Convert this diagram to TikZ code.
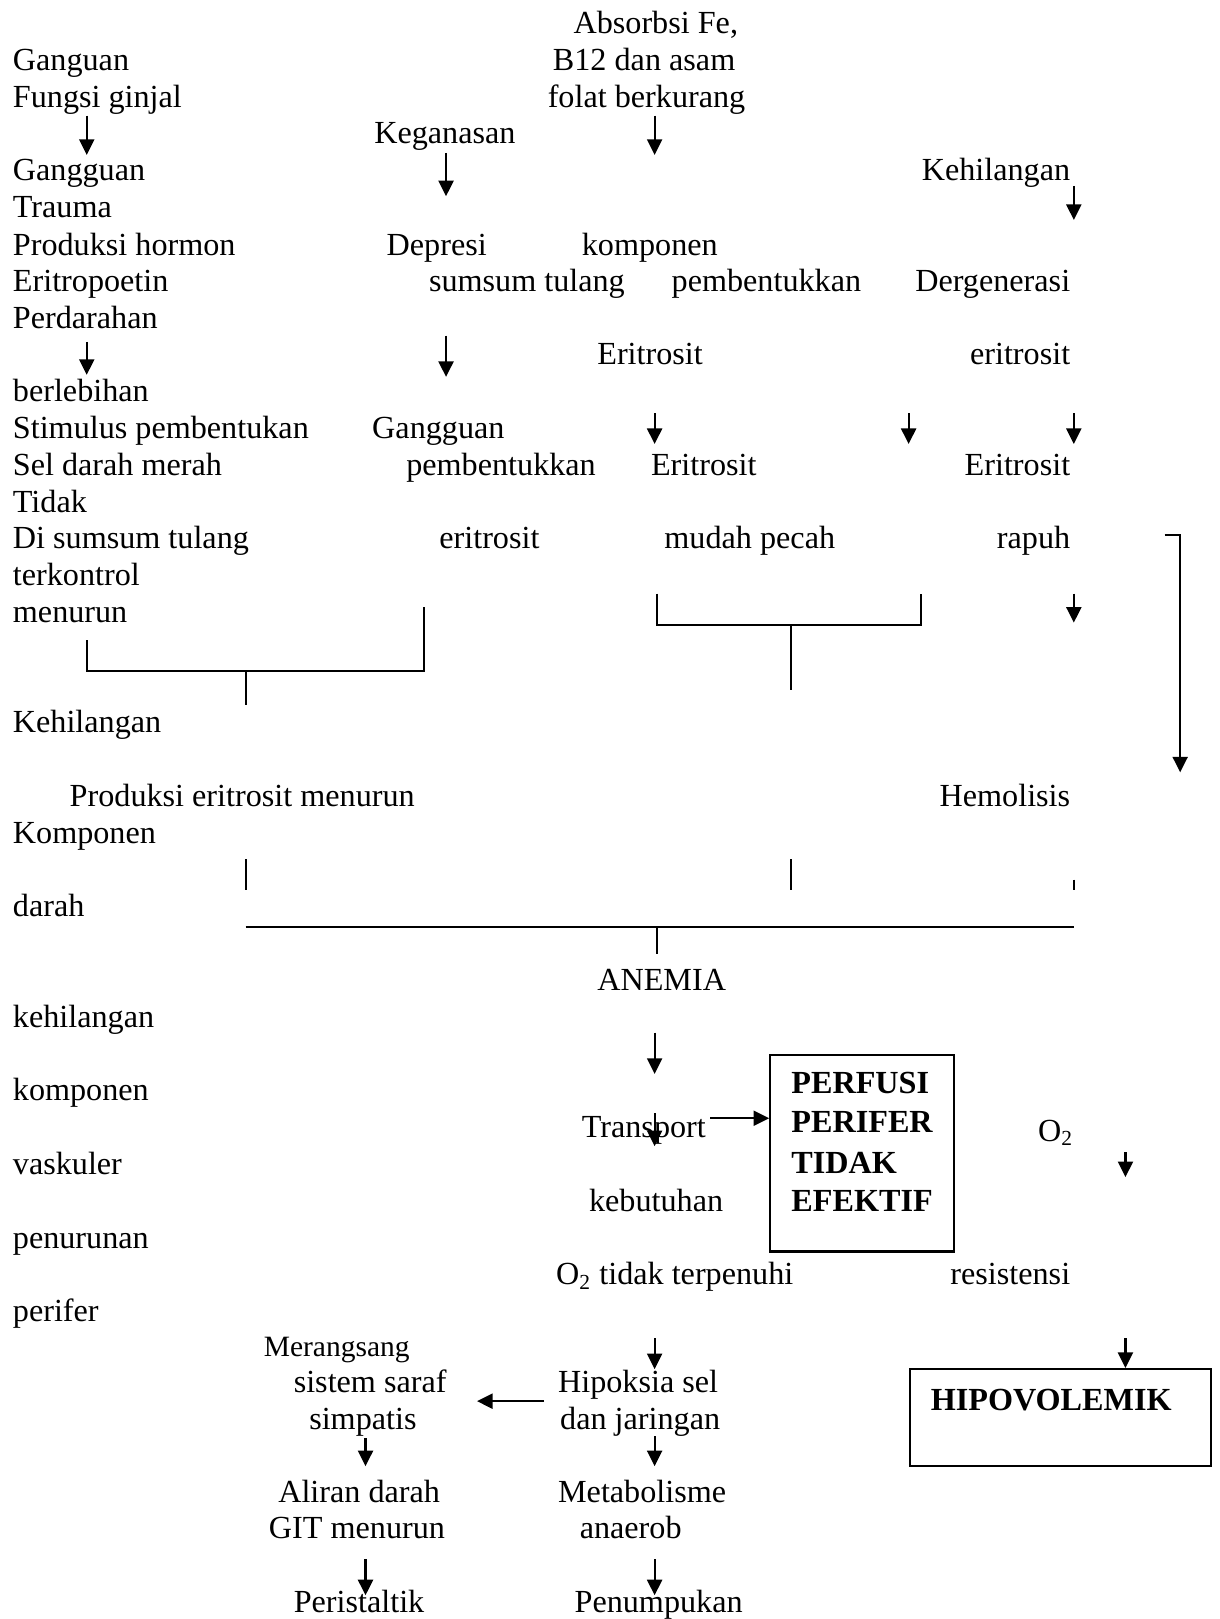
\documentclass[tikz,border=0pt]{standalone}
\usepackage{fontspec}
\setmainfont{Liberation Serif}
\usetikzlibrary{positioning,arrows.meta}

\begin{document}
\begin{tikzpicture}[x=0.385pt,y=-0.385pt,
  teks/.style={anchor=base west,inner sep=0pt,yshift=-3.5pt,font=\fontsize{12pt}{14pt}\selectfont},
  tekskanan/.style={teks,anchor=base east},
  tebal/.style={teks,font=\fontsize{12pt}{14pt}\selectfont\bfseries},
  fleche/.style={-{Triangle[length=5.8pt,width=5.6pt]},line width=0.8pt},
  garis/.style={line width=0.75pt},
  kotak/.style={draw,line width=0.85pt,inner sep=0pt}
]
\useasboundingbox (0,0) rectangle (1181,1568);

% kolom kiri
\node[teks] (ganguan) at (12,59) {Ganguan};
\node[teks] (fungsi) at (12,95) {Fungsi ginjal};
\node[teks] (gangguan) at (12,166) {Gangguan};
\node[teks] (trauma) at (12,202) {Trauma};
\node[teks] (hormon) at (12,238) {Produksi hormon};
\node[teks] (eritropoetin) at (12,273) {Eritropoetin};
\node[teks] (perdarahan) at (12,309) {Perdarahan};
\node[teks] (berlebihan) at (12,380) {berlebihan};
\node[teks] (stimulus) at (12,416) {Stimulus pembentukan};
\node[teks] (seldarah) at (12,451) {Sel darah merah};
\node[teks] (tidak) at (12,487) {Tidak};
\node[teks] (disumsum) at (12,522) {Di sumsum tulang};
\node[teks] (terkontrol) at (12,558) {terkontrol};
\node[teks] (menurun) at (12,594) {menurun};
\node[teks] (kehilangan) at (12,700) {Kehilangan};
\node[teks] (komponendarah) at (12,808) {Komponen};
\node[teks] (darah) at (12,879) {darah};
\node[teks] (kehilangankecil) at (12,986) {kehilangan};
\node[teks] (komponenvask) at (12,1057) {komponen};
\node[teks] (vaskuler) at (12,1128) {vaskuler};
\node[teks] (penurunan) at (12,1200) {penurunan};
\node[teks] (perifer) at (12,1271) {perifer};

% kolom tengah
\node[teks] (keganasan) at (362,130) {Keganasan};
\node[teks] (depresi) at (374,238) {Depresi};
\node[teks] (sumsum) at (415,273) {sumsum tulang};
\node[teks] (gangguanbentuk) at (360,416) {Gangguan};
\node[teks] (pembentukkan) at (393,451) {pembentukkan};
\node[teks] (eritrositbentuk) at (425,522) {eritrosit};
\node[teks] (produksi) at (67,772) {Produksi eritrosit menurun};

\node[teks] (absorbsi) at (555,23) {Absorbsi Fe,};
\node[teks] (b12) at (535,59) {B12 dan asam};
\node[teks] (folat) at (530,95) {folat berkurang};
\node[teks] (komponen) at (563,238) {komponen};
\node[teks] (pembentukkanB) at (650,273) {pembentukkan};
\node[teks] (eritrositB) at (578,344) {Eritrosit};
\node[teks] (eritrositpecah) at (630,451) {Eritrosit};
\node[teks] (mudah) at (643,522) {mudah pecah};

% kolom kanan
\node[tekskanan] (kehilanganB) at (1037,166) {Kehilangan};
\node[tekskanan] (dergenerasi) at (1037,273) {Dergenerasi};
\node[tekskanan] (eritrositC) at (1037,344) {eritrosit};
\node[tekskanan] (eritrositrapuh) at (1037,451) {Eritrosit};
\node[tekskanan] (rapuh) at (1037,522) {rapuh};
\node[tekskanan] (hemolisis) at (1037,772) {Hemolisis};

% bagian bawah
\node[teks] (anemia) at (578,950) {ANEMIA};
\node[teks] (transport) at (563,1093) {Transport};
\node[teks] (kebutuhan) at (570,1164) {kebutuhan};
\node[teks] (otidak) at (538,1235) {O\textsubscript{2} tidak terpenuhi};
\node[teks] (oksigen) at (1005,1096) {O\textsubscript{2}};
\node[tekskanan] (resistensi) at (1037,1235) {resistensi};
\node[teks,font=\fontsize{11pt}{13pt}\selectfont] (merangsang) at (255,1305) {Merangsang};
\node[teks] (sistem) at (284,1340) {sistem saraf};
\node[teks] (simpatis) at (299,1375) {simpatis};
\node[teks] (hipoksia) at (540,1340) {Hipoksia sel};
\node[teks] (jaringan) at (542,1375) {dan jaringan};
\node[teks] (aliran) at (269,1446) {Aliran darah};
\node[teks] (git) at (260,1481) {GIT menurun};
\node[teks] (metabolisme) at (540,1446) {Metabolisme};
\node[teks] (anaerob) at (561,1481) {anaerob};
\node[teks] (peristaltik) at (284,1553) {Peristaltik};
\node[teks] (penumpukan) at (556,1553) {Penumpukan};

% kotak
\node[kotak,minimum width=68.5pt,minimum height=73.2pt] (perfusi) at (835,1117) {};
\node[tebal] (perfusiA) at (766,1050) {PERFUSI};
\node[tebal] (perfusiB) at (766,1088) {PERIFER};
\node[tebal] (perfusiC) at (766,1127) {TIDAK};
\node[tebal] (perfusiD) at (766,1164) {EFEKTIF};
\node[kotak,minimum width=112.4pt,minimum height=36.2pt] (hipo) at (1027,1373) {};
\node[tebal] (hipovolemik) at (901,1357) {HIPOVOLEMIK};

% panah
\coordinate (a1) at (84,112); \coordinate (b1) at (84,150); \draw[fleche] (a1) -- (b1);
\coordinate (a2) at (634,112); \coordinate (b2) at (634,150); \draw[fleche] (a2) -- (b2);
\coordinate (a3) at (432,148); \coordinate (b3) at (432,190); \draw[fleche] (a3) -- (b3);
\coordinate (a4) at (1040,180); \coordinate (b4) at (1040,213); \draw[fleche] (a4) -- (b4);
\coordinate (a5) at (84,331); \coordinate (b5) at (84,363); \draw[fleche] (a5) -- (b5);
\coordinate (a6) at (432,325); \coordinate (b6) at (432,365); \draw[fleche] (a6) -- (b6);
\coordinate (a7) at (634,400); \coordinate (b7) at (634,430); \draw[fleche] (a7) -- (b7);
\coordinate (a8) at (880,400); \coordinate (b8) at (880,430); \draw[fleche] (a8) -- (b8);
\coordinate (a9) at (1040,400); \coordinate (b9) at (1040,430); \draw[fleche] (a9) -- (b9);
\coordinate (a10) at (1040,575); \coordinate (b10) at (1040,603); \draw[fleche] (a10) -- (b10);
\coordinate (a11) at (1128,518); \coordinate (b11) at (1143,748); \draw[fleche] (a11) -| (b11);
\coordinate (a12) at (634,1000); \coordinate (b12) at (634,1040); \draw[fleche] (a12) -- (b12);
\coordinate (a13) at (634,1078); \coordinate (b13) at (634,1110); \draw[fleche] (a13) -- (b13);
\coordinate (a14) at (688,1083); \draw[fleche] (a14) -- (a14 -| perfusi.west);
\coordinate (a15) at (1090,1116); \coordinate (b15) at (1090,1140); \draw[fleche] (a15) -- (b15);
\coordinate (a16) at (634,1296); \coordinate (b16) at (634,1326); \draw[fleche] (a16) -- (b16);
\coordinate (a17) at (1090,1296); \draw[fleche] (a17) -- (a17 |- hipo.north);
\coordinate (a18) at (527,1357); \coordinate (b18) at (462,1357); \draw[fleche] (a18) -- (b18);
\coordinate (a19) at (354,1393); \coordinate (b19) at (354,1420); \draw[fleche] (a19) -- (b19);
\coordinate (a20) at (634,1391); \coordinate (b20) at (634,1420); \draw[fleche] (a20) -- (b20);
\coordinate (a21) at (354,1510); \coordinate (b21) at (354,1545); \draw[fleche] (a21) -- (b21);
\coordinate (a22) at (634,1510); \coordinate (b22) at (634,1545); \draw[fleche] (a22) -- (b22);

% kurung dan garis
\coordinate (k1) at (84,620); \coordinate (k2) at (411,588);
\draw[garis] (k1) -- (84,650) -- (411,650) -- (k2);
\coordinate (k3) at (238,650); \coordinate (k4) at (238,683); \draw[garis] (k3) -- (k4);
\coordinate (k5) at (636,575); \coordinate (k6) at (892,575);
\draw[garis] (k5) -- (636,605) -- (892,605) -- (k6);
\coordinate (k7) at (766,605); \coordinate (k8) at (766,668); \draw[garis] (k7) -- (k8);
\coordinate (s1) at (238,832); \coordinate (t1) at (238,862); \draw[garis] (s1) -- (t1);
\coordinate (s2) at (766,832); \coordinate (t2) at (766,862); \draw[garis] (s2) -- (t2);
\coordinate (s3) at (1040,852); \coordinate (t3) at (1040,862); \draw[garis] (s3) -- (t3);
\coordinate (g1) at (238,898); \coordinate (g2) at (1040,898); \draw[garis] (g1) -- (g2);
\coordinate (g3) at (636,898); \coordinate (g4) at (636,924); \draw[garis] (g3) -- (g4);
\end{tikzpicture}
\end{document}
